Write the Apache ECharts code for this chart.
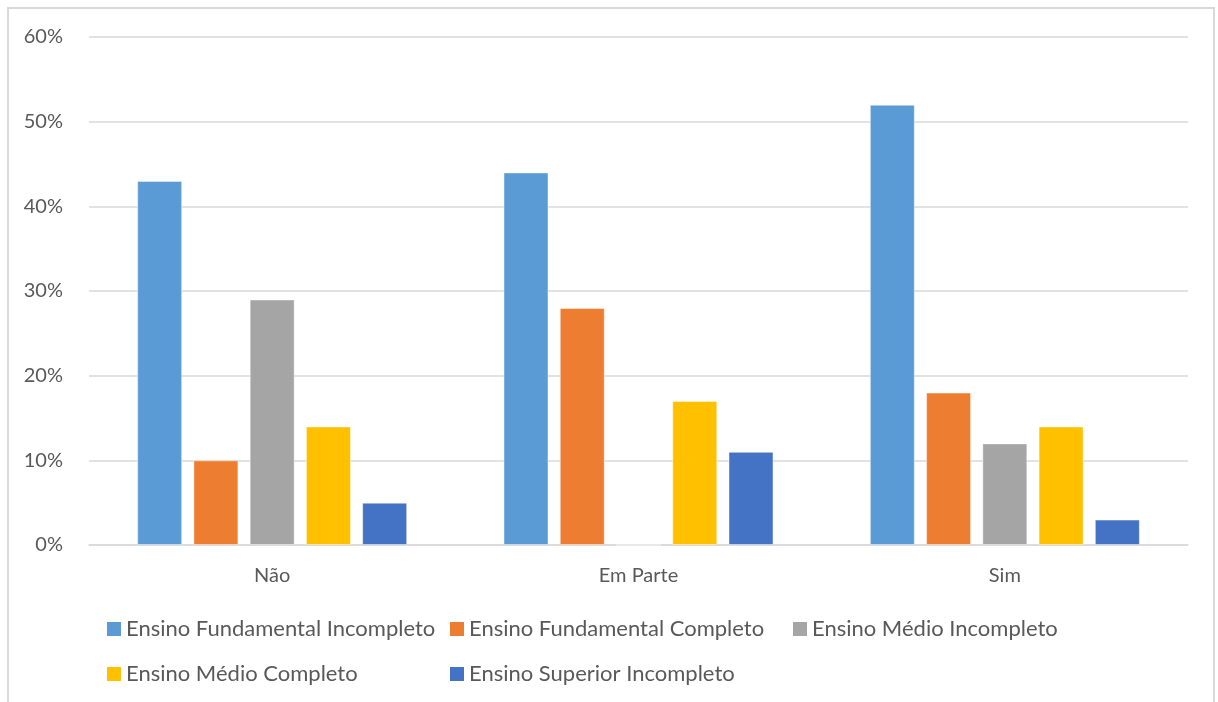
<!DOCTYPE html>
<html>
<head>
<meta charset="utf-8">
<script src="https://cdn.jsdelivr.net/npm/echarts@6/dist/echarts.min.js"></script>
<style>
  html, body { margin: 0; padding: 0; background: #fff; }
  #frame { position: absolute; left: 7px; top: 7px; width: 1208px; height: 720px; border: 2px solid #d9d9d9; box-sizing: border-box; }
  #chart { position: absolute; left: 0; top: 0; width: 1218px; height: 702px; }
</style>
</head>
<body>
<div id="frame"></div>
<div id="chart"></div>
<script>
// Respostas por nível de escolaridade (%)
const categories = ['Não', 'Em Parte', 'Sim'];
const seriesNames = [
  'Ensino Fundamental Incompleto',
  'Ensino Fundamental Completo',
  'Ensino Médio Incompleto',
  'Ensino Médio Completo',
  'Ensino Superior Incompleto'
];
const fundIncompleto = [43, 44, 52];
const fundCompleto = [10, 28, 18];
const medioIncompleto = [29, 0, 12];
const medioCompleto = [14, 17, 14];
const superiorIncompleto = [5, 11, 3];
const yTicks = [0, 10, 20, 30, 40, 50, 60];

const colors = ['#5B9BD5', '#ED7D31', '#A5A5A5', '#FFC000', '#4472C4'];
const values = [fundIncompleto, fundCompleto, medioIncompleto, medioCompleto, superiorIncompleto];
const fontFamily = 'Lato, "Open Sans", sans-serif';

// Legend laid out as a grid: three columns, two rows
const legendCols = [102, 445, 788];
const legendRows = [613, 658];
const legends = seriesNames.map((name, i) => ({
  left: legendCols[i % 3],
  top: legendRows[Math.floor(i / 3)],
  itemWidth: 14,
  itemHeight: 14,
  itemGap: 0,
  icon: 'rect',
  data: [name],
  textStyle: { fontSize: 22, color: '#595959', fontFamily: fontFamily },
  itemStyle: { borderWidth: 0 }
}));

const chart = echarts.init(document.getElementById('chart'), null, { renderer: 'canvas' });
chart.setOption({
  animation: false,
  color: colors,
  textStyle: { fontFamily: fontFamily },
  grid: { left: 89, right: 30, top: 37, bottom: 157, containLabel: false },
  legend: legends,
  xAxis: {
    type: 'category',
    data: categories,
    axisLine: { lineStyle: { color: '#d9d9d9', width: 1.5 } },
    axisTick: { show: false },
    axisLabel: { fontSize: 20, color: '#595959', margin: 21, fontFamily: fontFamily }
  },
  yAxis: {
    type: 'value',
    min: yTicks[0],
    max: yTicks[yTicks.length - 1],
    interval: 10,
    axisLine: { show: false },
    axisTick: { show: false },
    axisLabel: { fontSize: 20, color: '#595959', margin: 26, formatter: '{value}%', fontFamily: fontFamily },
    splitLine: { lineStyle: { color: '#d9d9d9', width: 1.5 } }
  },
  series: seriesNames.map((name, i) => ({
    name: name,
    type: 'bar',
    data: values[i],
    barWidth: 45,
    barGap: '25%',
    itemStyle: { color: colors[i], borderColor: 'rgba(255,255,255,0.45)', borderWidth: 1 }
  }))
});
</script>
</body>
</html>
